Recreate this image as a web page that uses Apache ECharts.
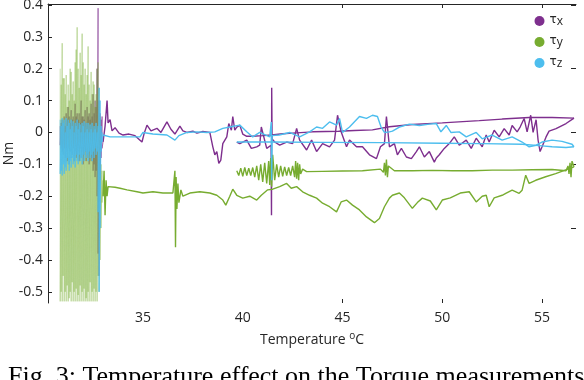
<!DOCTYPE html>
<html>
<head>
<meta charset="utf-8">
<script src="https://cdn.jsdelivr.net/npm/echarts@6/dist/echarts.min.js"></script>
<style>
  html, body { margin: 0; padding: 0; background: #fff; }
  #main { width: 584px; height: 380px; }
</style>
</head>
<body>
<div id="main"></div>
<script>
// temperature samples of the noisy start (30.85 .. 33 degC)
const noiseT = [30.85, 30.9, 30.95, 31.0, 31.05, 31.1, 31.15, 31.2, 31.25, 31.3, 31.35, 31.4, 31.45, 31.5, 31.55,
  31.6, 31.65, 31.7, 31.75, 31.8, 31.85, 31.9, 31.95, 32.0, 32.05, 32.1, 32.15, 32.2, 32.25, 32.3, 32.35, 32.4,
  32.45, 32.5, 32.55, 32.6, 32.65, 32.7, 32.75, 32.8, 32.85, 32.9, 32.95, 33.0];

// upper / lower envelope of each torque in the noisy start
const tauXHi = [0.02, 0.03, 0.04, 0.03, 0.05, 0.02, 0.06, 0.04, 0.08, 0.05, 0.03, 0.07, 0.04, 0.05, 0.03, 0.09, 0.05,
  0.06, 0.04, 0.06, 0.03, 0.1, 0.05, 0.05, 0.04, 0.07, 0.03, 0.08, 0.05, 0.06, 0.04, 0.09, 0.05, 0.12, 0.06, 0.1,
  0.08, 0.2, 0.39, 0.1, 0.06, 0.04, 0.05, -0.03];
const tauXLo = [-0.04, -0.05, -0.06, -0.07, -0.05, -0.08, -0.06, -0.09, -0.05, -0.1, -0.06, -0.08, -0.07, -0.05,
  -0.09, -0.06, -0.08, -0.07, -0.06, -0.09, -0.05, -0.08, -0.06, -0.1, -0.07, -0.06, -0.09, -0.07, -0.08, -0.1,
  -0.06, -0.09, -0.08, -0.12, -0.1, -0.14, -0.12, -0.2, -0.38, -0.45, -0.15, -0.08, -0.05, -0.03];
const tauYHi = [0.2, 0.15, 0.28, 0.17, 0.17, 0.12, 0.18, 0.08, 0.15, 0.1, 0.2, 0.19, 0.12, 0.16, 0.1, 0.22, 0.26,
  0.33, 0.2, 0.14, 0.25, 0.18, 0.31, 0.22, 0.15, 0.2, 0.12, 0.18, 0.27, 0.15, 0.1, 0.19, 0.12, 0.16, 0.15, 0.08,
  0.12, 0.2, 0.22, 0.14, 0.05, -0.1, -0.12, -0.15];
const tauYLo = [-0.53, -0.5, -0.53, -0.45, -0.53, -0.5, -0.53, -0.48, -0.53, -0.52, -0.5, -0.53, -0.47, -0.53, -0.5,
  -0.53, -0.49, -0.53, -0.51, -0.53, -0.48, -0.53, -0.5, -0.53, -0.49, -0.53, -0.52, -0.53, -0.5, -0.53, -0.47,
  -0.53, -0.5, -0.53, -0.49, -0.53, -0.5, -0.53, -0.45, -0.5, -0.4, -0.3, -0.22, -0.2];
const tauZHi = [0.04, 0.02, 0.045, 0.03, 0.04, 0.0, 0.045, 0.02, 0.04, 0.03, 0.01, 0.04, 0.02, 0.035, 0.0, 0.03,
  0.02, 0.04, 0.01, 0.03, 0.025, 0.0, 0.03, 0.02, 0.035, 0.0, 0.03, 0.01, 0.03, 0.0, 0.025, 0.01, 0.03, 0.0, 0.02,
  0.01, 0.03, 0.0, 0.02, 0.14, 0.1, 0.02, 0.0, -0.008];
const tauZLo = [-0.13, -0.12, -0.135, -0.1, -0.13, -0.11, -0.12, -0.08, -0.1, -0.12, -0.09, -0.11, -0.08, -0.1,
  -0.09, -0.11, -0.07, -0.09, -0.1, -0.07, -0.09, -0.08, -0.1, -0.07, -0.09, -0.06, -0.08, -0.07, -0.09, -0.06,
  -0.08, -0.07, -0.09, -0.06, -0.08, -0.05, -0.07, -0.06, -0.25, -0.5, -0.3, -0.06, -0.03, -0.01];

// heating run [degC, Nm]
const tauXRise = [[33.0, -0.03], [33.1, 0.02], [33.2, 0.1], [33.25, 0.03], [33.35, 0.04], [33.45, 0.005],
  [33.6, 0.015], [33.8, -0.002], [34.0, -0.008], [34.3, -0.005], [34.6, -0.01], [34.95, -0.03], [35.05, -0.005],
  [35.2, 0.023], [35.4, 0.005], [35.7, 0.013], [35.9, 0.0], [36.2, 0.033], [36.4, 0.01], [36.6, -0.005],
  [36.85, 0.02], [37.0, 0.005], [37.2, 0.0], [37.5, 0.004], [37.7, -0.002], [38.0, 0.003], [38.35, 0.0],
  [38.5, -0.045], [38.6, -0.07], [38.7, -0.06], [38.8, -0.097], [38.9, -0.087], [39.0, -0.035], [39.2, -0.014],
  [39.3, 0.028], [39.43, 0.007], [39.5, 0.05], [39.6, 0.007], [39.7, 0.017], [39.85, 0.023], [40.0, -0.005],
  [40.2, -0.012], [40.5, -0.012], [41.0, -0.01], [41.45, -0.008], [42.0, -0.004], [42.5, -0.002], [43.5, 0.002],
  [44.8, 0.004], [45.6, 0.006], [46.5, 0.008], [47.35, 0.018], [48.5, 0.025], [50.0, 0.03], [51.85, 0.037],
  [53.0, 0.042], [54.35, 0.047], [55.5, 0.047], [56.6, 0.045]];
const tauYRise = [[33.0, -0.2], [33.05, -0.12], [33.1, -0.26], [33.15, -0.15], [33.2, -0.2], [33.25, -0.17],
  [33.35, -0.166], [33.6, -0.172], [33.85, -0.175], [34.2, -0.18], [34.7, -0.186], [35.0, -0.19], [35.5, -0.186],
  [36.0, -0.19], [36.5, -0.19], [36.6, -0.12], [36.63, -0.36], [36.66, -0.14], [36.7, -0.24], [36.75, -0.16],
  [36.8, -0.22], [36.9, -0.18], [37.0, -0.2], [37.35, -0.19], [37.85, -0.186], [38.35, -0.19], [38.7, -0.197],
  [39.0, -0.212], [39.15, -0.228], [39.35, -0.2], [39.5, -0.178], [39.7, -0.197], [40.0, -0.206], [40.35, -0.2],
  [40.7, -0.212], [40.93, -0.197], [41.25, -0.18], [41.5, -0.178], [41.85, -0.17], [42.2, -0.16], [42.43, -0.175],
  [42.7, -0.17], [43.0, -0.186], [43.35, -0.197], [43.7, -0.206], [44.0, -0.222], [44.35, -0.233], [44.7, -0.249],
  [44.93, -0.218], [45.2, -0.212], [45.5, -0.228], [45.85, -0.243], [46.2, -0.265], [46.6, -0.283], [46.85, -0.27],
  [47.1, -0.233], [47.35, -0.206], [47.5, -0.197], [47.85, -0.19], [48.1, -0.205], [48.5, -0.238], [48.75, -0.22],
  [49.0, -0.206], [49.4, -0.215], [49.7, -0.243], [50.0, -0.212], [50.4, -0.205], [50.9, -0.19], [51.35, -0.186],
  [51.7, -0.218], [52.0, -0.2], [52.2, -0.197], [52.35, -0.233], [52.6, -0.205], [53.0, -0.197], [53.18, -0.191],
  [53.5, -0.181], [53.85, -0.191], [54.0, -0.181], [54.18, -0.134], [54.35, -0.16], [54.68, -0.15], [55.18, -0.139],
  [55.68, -0.129], [56.6, -0.108]];
const tauZRise = [[33.0, -0.008], [33.35, -0.014], [34.0, -0.014], [34.85, -0.014], [35.0, 0.0], [35.5, -0.005],
  [36.2, -0.008], [36.6, -0.024], [36.8, -0.01], [37.2, 0.0], [37.7, 0.002], [38.2, 0.0], [38.6, 0.002], [39.0, 0.013],
  [39.35, 0.017], [39.85, 0.023], [40.2, 0.002], [40.5, -0.014], [40.85, 0.0], [41.35, -0.014], [41.43, 0.033],
  [41.45, -0.15], [41.47, -0.01], [41.83, -0.008], [42.35, 0.0], [42.85, -0.014], [43.35, 0.002], [43.7, 0.017],
  [44.0, 0.013], [44.35, 0.033], [44.7, 0.023], [44.85, 0.044], [45.0, 0.0], [45.35, 0.017], [45.85, 0.05],
  [46.2, 0.044], [46.5, 0.054], [46.75, 0.05], [46.93, 0.017], [47.1, 0.0], [47.35, 0.002], [47.5, 0.004],
  [47.85, 0.017], [48.35, 0.026], [48.85, 0.022], [49.35, 0.026], [49.7, 0.028], [49.93, 0.002], [50.2, 0.022],
  [50.43, 0.0], [50.85, 0.002], [51.2, -0.014], [51.7, 0.0], [52.0, -0.02], [52.5, -0.008], [53.0, -0.024],
  [53.5, -0.014], [54.0, -0.03], [54.35, -0.045], [54.7, -0.04], [55.0, -0.03], [55.5, -0.024], [56.0, -0.028],
  [56.5, -0.037], [56.6, -0.045]];

// cooling run [degC, Nm]
const tauXFall = [[56.6, 0.045], [56.2, 0.028], [55.7, 0.012], [55.35, 0.004], [55.2, -0.014], [55.0, -0.045],
  [54.9, -0.06], [54.8, -0.024], [54.7, 0.04], [54.55, 0.0], [54.43, 0.054], [54.25, 0.002], [54.1, 0.044],
  [53.9, 0.017], [53.75, 0.002], [53.5, 0.022], [53.35, -0.008], [53.1, 0.012], [52.85, -0.014], [52.6, 0.007],
  [52.35, -0.03], [52.2, -0.008], [52.0, -0.045], [51.7, -0.018], [51.45, -0.05], [51.2, -0.024], [50.85, -0.04],
  [50.6, -0.014], [50.35, -0.035], [50.1, -0.05], [49.85, -0.07], [49.7, -0.08], [49.6, -0.093], [49.35, -0.06],
  [49.1, -0.077], [48.85, -0.045], [48.7, -0.06], [48.45, -0.082], [48.2, -0.077], [47.95, -0.05], [47.75, -0.07],
  [47.6, -0.035], [47.35, -0.045], [47.2, 0.05], [47.1, -0.035], [46.9, -0.045], [46.7, -0.082], [46.35, -0.07],
  [46.0, -0.045], [45.7, -0.045], [45.35, -0.024], [45.2, -0.045], [44.93, 0.002], [44.75, 0.054], [44.6, -0.024],
  [44.35, -0.045], [44.0, -0.035], [43.7, -0.06], [43.45, -0.024], [43.2, -0.055], [42.85, -0.024], [42.7, 0.013],
  [42.5, -0.035], [42.2, -0.03], [41.85, -0.04], [41.6, -0.03], [41.47, -0.02], [41.45, 0.14], [41.44, -0.26],
  [41.42, -0.04], [41.2, -0.05], [40.93, 0.017], [40.85, -0.04], [40.7, -0.045], [40.43, -0.05], [40.2, -0.024],
  [39.85, -0.035], [39.7, -0.03]];
const tauYFall = [[56.6, -0.108], [56.5, -0.09], [56.45, -0.14], [56.4, -0.095], [56.35, -0.13], [56.3, -0.105],
  [56.2, -0.12], [55.5, -0.116], [54.5, -0.117], [53.5, -0.118], [52.5, -0.118], [51.5, -0.12], [50.5, -0.12],
  [49.5, -0.119], [48.5, -0.12], [47.6, -0.12], [47.3, -0.105], [47.25, -0.14], [47.2, -0.085], [47.15, -0.135],
  [47.1, -0.095], [47.05, -0.125], [46.9, -0.115], [46.0, -0.12], [45.0, -0.121], [44.0, -0.122], [43.2, -0.123],
  [43.0, -0.115], [42.9, -0.13], [42.85, -0.1], [42.8, -0.15], [42.75, -0.095], [42.7, -0.145], [42.65, -0.09],
  [42.6, -0.14], [42.5, -0.105], [42.4, -0.135], [42.3, -0.11], [42.2, -0.135], [42.1, -0.108], [42.0, -0.138],
  [41.9, -0.105], [41.8, -0.14], [41.7, -0.1], [41.6, -0.15], [41.5, -0.07], [41.45, -0.17], [41.4, -0.08],
  [41.35, -0.165], [41.3, -0.09], [41.2, -0.16], [41.1, -0.095], [41.0, -0.155], [40.9, -0.1], [40.8, -0.15],
  [40.7, -0.105], [40.6, -0.14], [40.5, -0.11], [40.4, -0.135], [40.3, -0.112], [40.2, -0.135], [40.1, -0.11],
  [40.0, -0.138], [39.9, -0.112], [39.8, -0.135], [39.7, -0.12]];
const tauZFall = [[56.6, -0.045], [56.2, -0.047], [55.5, -0.045], [55.0, -0.042], [54.0, -0.037], [52.0, -0.035],
  [50.0, -0.034], [47.0, -0.032], [44.0, -0.031], [41.5, -0.03], [39.7, -0.03]];

const xLabelTicks = [35, 40, 45, 50, 55];
const xMarkTicks = [45, 50, 55];
const yTicks = [-0.5, -0.4, -0.3, -0.2, -0.1, 0, 0.1, 0.2, 0.3, 0.4];
const yRightTicks = [-0.3, -0.1, 0, 0.2, 0.4];

const colors = { 'τx': '#7E2F8E', 'τy': '#77AC30', 'τz': '#4DBEEE' };
const textColor = '#262626';

// zig-zag through the noisy envelope
function zigzag(t, hi, lo) {
  const out = [];
  t.forEach((v, i) => {
    out.push([v, hi[i]]);
    out.push([v, lo[i]]);
  });
  return out;
}

function line(name, data, width, opacity) {
  return {
    name: name,
    type: 'line',
    data: data,
    showSymbol: false,
    symbol: 'none',
    color: colors[name],
    lineStyle: { width: width, color: colors[name], opacity: opacity || 1 },
    silent: true
  };
}

const chart = echarts.init(document.getElementById('main'), null, { renderer: 'canvas' });

chart.setOption({
  animation: false,
  grid: { left: 48, right: 8, top: 4, bottom: 77, outerBoundsMode: 'none' },
  legend: {
    data: ['τx', 'τy', 'τz'],
    orient: 'vertical',
    right: 16,
    top: 5,
    icon: 'circle',
    itemWidth: 10,
    itemHeight: 10,
    itemGap: 3,
    formatter: name => '{t|τ}{s|' + name.slice(1) + '}',
    textStyle: {
      color: textColor,
      rich: {
        t: { fontSize: 12, fontFamily: 'DejaVu Sans', color: textColor, lineHeight: 14, verticalAlign: 'top' },
        s: { fontSize: 12, fontFamily: 'Open Sans', color: textColor, lineHeight: 14, verticalAlign: 'bottom', padding: [6, 0, 0, 0] }
      }
    }
  },
  xAxis: [
    {
      type: 'value',
      min: 30.24,
      max: 56.7,
      position: 'bottom',
      axisLine: { show: false, onZero: false },
      splitLine: { show: false },
      axisTick: { show: true, inside: true, length: 4, customValues: xMarkTicks, lineStyle: { color: textColor } },
      axisLabel: { customValues: xLabelTicks, color: textColor, fontSize: 14, fontFamily: 'Open Sans', margin: 8 },
      name: 'Temperature {sup|o}C',
      nameLocation: 'middle',
      nameGap: 28,
      nameTextStyle: {
        color: textColor, fontSize: 14, fontFamily: 'Open Sans',
        rich: { sup: { fontSize: 10, fontFamily: 'Open Sans', color: textColor, verticalAlign: 'top', padding: [0, 0, 8, 0] } }
      }
    },
    {
      type: 'value',
      min: 30.24,
      max: 56.7,
      position: 'top',
      axisLine: { show: true, onZero: false, lineStyle: { color: textColor, width: 1 } },
      splitLine: { show: false },
      axisTick: { show: true, inside: true, length: 4, customValues: xMarkTicks, lineStyle: { color: textColor } },
      axisLabel: { show: false }
    }
  ],
  yAxis: [
    {
      type: 'value',
      min: -0.535,
      max: 0.403,
      axisLine: { show: true, onZero: false, lineStyle: { color: textColor, width: 1 } },
      splitLine: { show: false },
      axisTick: { show: true, inside: true, length: 4, customValues: yTicks, lineStyle: { color: textColor } },
      axisLabel: {
        customValues: yTicks,
        color: textColor, fontSize: 14, fontFamily: 'Open Sans', margin: 5,
        formatter: v => (Math.abs(v) < 1e-9 ? '0' : v.toFixed(1))
      },
      name: 'Nm',
      nameLocation: 'middle',
      nameRotate: 90,
      nameGap: 32,
      nameMoveOverlap: false,
      nameTextStyle: { color: textColor, fontSize: 14, fontFamily: 'Open Sans' }
    },
    {
      type: 'value',
      min: -0.535,
      max: 0.403,
      position: 'right',
      axisLine: { show: false, onZero: false },
      splitLine: { show: false },
      axisTick: { show: true, inside: true, length: 5, customValues: yRightTicks, lineStyle: { color: textColor } },
      axisLabel: { show: false }
    }
  ],
  graphic: [
    {
      type: 'text',
      left: 8,
      top: 364,
      style: {
        text: 'Fig. 3: Temperature effect on the Torque measurements',
        font: '26px "Liberation Serif"',
        fill: '#000'
      }
    }
  ],
  series: [
    line('τx', zigzag(noiseT, tauXHi, tauXLo), 0.6),
    line('τx', tauXRise, 1.4),
    line('τx', tauXFall, 1.4),
    line('τy', zigzag(noiseT, tauYHi, tauYLo), 0.5, 0.75),
    line('τy', tauYRise, 1.4),
    line('τy', tauYFall, 1.4),
    line('τz', zigzag(noiseT, tauZHi, tauZLo), 0.8),
    line('τz', tauZRise, 1.4),
    line('τz', tauZFall, 1.4)
  ]
});
</script>
</body>
</html>
